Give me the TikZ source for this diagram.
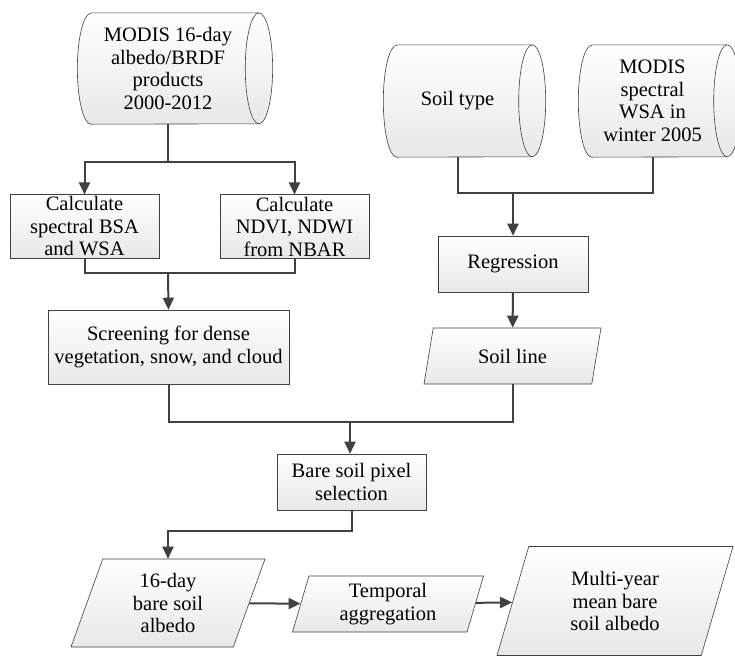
\documentclass[tikz,border=0pt]{standalone}
\usepackage{fontspec}
\setmainfont{Liberation Serif}
\usetikzlibrary{shapes.geometric,arrows.meta,backgrounds}
\tikzset{
  box/.style={draw=black!75, line width=0.6pt, top color=white, bottom color=black!9, align=center, minimum width=149pt, minimum height=55pt, inner sep=2pt},
  drumtext/.style={align=center, inner sep=0pt},
  drum/.style={draw=black!75, line width=0.6pt, top color=white, bottom color=black!9},
  drumline/.style={draw=black!75, line width=0.6pt},
  data/.style={trapezium, trapezium left angle=63.4, trapezium right angle=116.6, trapezium stretches body, draw=black!75, line width=0.6pt, top color=white, bottom color=black!9, align=center, inner sep=2pt},
  link/.style={draw=black!75, line width=2pt},
  flow/.style={link, -{Triangle[length=12pt,width=11pt]}}
}
% outline of a data store drawn round a named node: (name)(shift:xradius:yradius)
\def\drumshape(#1)(#2:#3:#4){\begin{scope}[on background layer]
	\draw[drum] ([xshift=#2]#1.north west) -- ([xshift=#2]#1.north east) arc[start angle=-90, end angle=90, x radius=#3, y radius=#4] -- ([xshift=#2]#1.south west) arc[start angle=90, end angle=270, x radius=#3, y radius=#4] -- cycle;
	\draw[drumline] ([xshift=#2]#1.north east) arc[start angle=270, end angle=90, x radius=#3, y radius=#4];
\end{scope}}

\begin{document}
\begin{tikzpicture}[x=1pt, y=-1pt, font=\fontsize{20.5}{22.5}\selectfont]
			%%%%% START %%%%%
			\useasboundingbox (0, 0) rectangle (735, 656);
			
			\node[drumtext, minimum width=167.5pt, minimum height=111pt] (modis) at (168, 68.5) {MODIS 16-day\\albedo/BRDF\\products\\2000-2012};
			\drumshape(modis)(7pt:13.7:55.5)
			\node[drumtext, minimum width=135pt, minimum height=112pt] (soiltype) at (457.5, 101) {Soil type};
			\drumshape(soiltype)(7pt:13.5:56)
			\node[drumtext, minimum width=135pt, minimum height=112pt] (modisws) at (652.5, 101) {MODIS\\spectral\\WSA in\\winter 2005};
			\drumshape(modisws)(7pt:13.5:56)
			
			\node[box] (calcbsa) at (84.5, 226.5) {Calculate\\spectral BSA\\and WSA};
			\node[box] (calcndvi) at (294.5, 226.5) {Calculate\\NDVI, NDWI\\from NBAR};
			\node[box, minimum width=241pt, minimum height=74pt] (screen) at (168.5, 347) {Screening for dense\\vegetation, snow, and cloud};
			\node[box, minimum width=150pt, minimum height=56pt] (regress) at (513, 264) {Regression};
			\node[data, minimum width=177pt, minimum height=56pt] (soilline) at (512.5, 356) {Soil line};
			\node[box, minimum height=56pt] (baresel) at (351.5, 482) {Bare soil pixel\\selection};
			
			\node[data, minimum width=194pt, minimum height=88pt] (day16) at (168, 603) {16-day\\bare soil\\albedo};
			\node[data, trapezium left angle=70, trapezium right angle=110, minimum width=191pt, minimum height=56pt] (temporal) at (388, 604) {Temporal\\aggregation};
			\node[data, minimum width=236pt, minimum height=109pt] (multi) at (615, 601) {Multi-year\\mean bare\\soil albedo};
			
			\coordinate (split1) at (168, 162);
			\coordinate (join1) at (168, 273);
			\coordinate (join2) at (513, 193);
			\coordinate (join3) at (350, 422);
			
			\draw[link] (modis.south) -- (split1);
			\draw[flow] (split1) -| (calcbsa.north);
			\draw[flow] (split1) -| (calcndvi.north);
			\draw[link] (calcbsa.south) |- (join1) -| (calcndvi.south);
			\draw[flow] (join1) -- (screen.north);
			
			\draw[link] (soiltype.south) |- (join2) -| (modisws.south);
			\draw[flow] (join2) -- (regress.north);
			\draw[flow] (regress) -- (soilline);
			
			\draw[link] (screen.south) |- (join3) -| (soilline.south);
			\draw[flow] (join3) -- (join3 |- baresel.north);
			\draw[flow] (baresel.south) -- ++(0, 21) -| (day16.north);
			\draw[flow] (day16) -- (temporal);
			\draw[flow] (temporal) -- (multi);
			
			%%%%% END %%%%%
		\end{tikzpicture}
\end{document}
